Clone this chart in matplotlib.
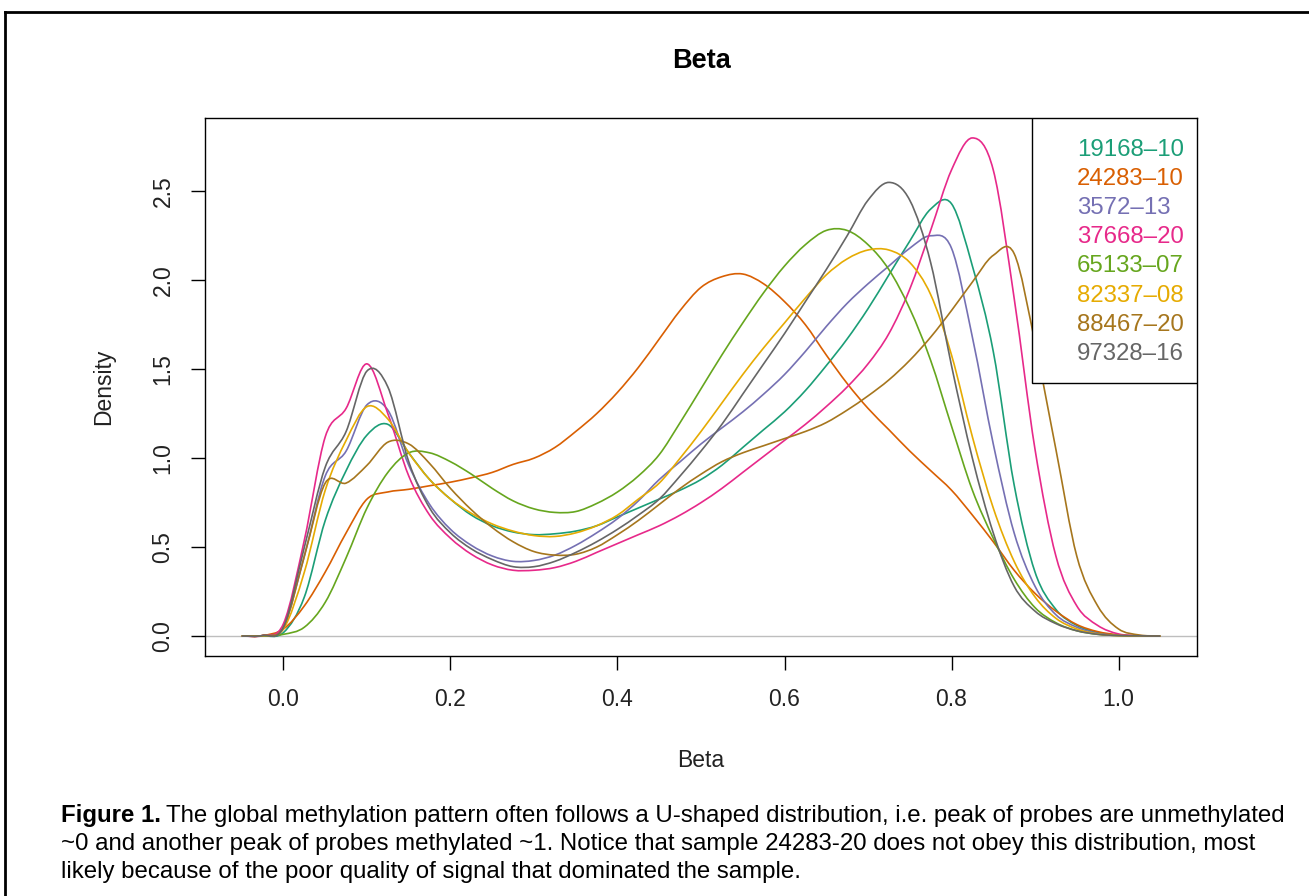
import numpy as np
import matplotlib
matplotlib.use('Agg')
import matplotlib.pyplot as plt
from matplotlib.lines import Line2D
from matplotlib.patches import Rectangle, PathPatch
from matplotlib.path import Path

plt.rcParams['font.family'] = ['Liberation Sans', 'DejaVu Sans']

# 評価点 (Beta)
beta = [-0.05, -0.025, 0.0, 0.025, 0.05, 0.075, 0.1, 0.125, 0.15, 0.175,
        0.2, 0.225, 0.25, 0.275, 0.3, 0.325, 0.35, 0.375, 0.4, 0.425,
        0.45, 0.475, 0.5, 0.525, 0.55, 0.575, 0.6, 0.625, 0.65, 0.675,
        0.7, 0.725, 0.75, 0.775, 0.8, 0.825, 0.85, 0.875, 0.9, 0.925,
        0.95, 0.975, 1.0, 1.025, 1.05]

# サンプル名
samples = ["19168-10", "24283-10", "3572-13", "37668-20",
           "65133-07", "82337-08", "88467-20", "97328-16"]

# 密度
d_19168_10 = [0, 0.001, 0.02, 0.22, 0.65, 0.93, 1.13, 1.19, 1.03, 0.88,
              0.77, 0.68, 0.62, 0.585, 0.57, 0.575, 0.59, 0.62, 0.67, 0.72,
              0.77, 0.82, 0.88, 0.96, 1.06, 1.16, 1.26, 1.38, 1.52, 1.67,
              1.84, 2.03, 2.22, 2.40, 2.43, 2.08, 1.60, 0.85, 0.36, 0.15,
              0.06, 0.02, 0.005, 0.001, 0]
d_24283_10 = [0, 0.003, 0.04, 0.17, 0.36, 0.58, 0.77, 0.81, 0.825, 0.845,
              0.865, 0.89, 0.92, 0.965, 1.0, 1.06, 1.15, 1.25, 1.37, 1.51,
              1.67, 1.83, 1.96, 2.02, 2.035, 1.98, 1.88, 1.75, 1.58, 1.42,
              1.28, 1.16, 1.04, 0.93, 0.82, 0.68, 0.53, 0.37, 0.24, 0.14,
              0.065, 0.025, 0.007, 0.001, 0]
d_3572_13 = [0, 0.003, 0.05, 0.45, 0.90, 1.04, 1.30, 1.27, 0.96, 0.74,
             0.60, 0.51, 0.45, 0.42, 0.425, 0.455, 0.51, 0.58, 0.66, 0.76,
             0.88, 0.98, 1.08, 1.17, 1.26, 1.36, 1.47, 1.60, 1.74, 1.87,
             1.98, 2.08, 2.18, 2.25, 2.18, 1.68, 1.08, 0.58, 0.28, 0.12,
             0.05, 0.015, 0.004, 0.001, 0]
d_37668_20 = [0, 0.003, 0.07, 0.54, 1.12, 1.28, 1.53, 1.25, 0.90, 0.68,
              0.55, 0.46, 0.40, 0.37, 0.37, 0.385, 0.42, 0.47, 0.52, 0.57,
              0.62, 0.68, 0.75, 0.83, 0.92, 1.01, 1.10, 1.19, 1.29, 1.40,
              1.53, 1.70, 1.95, 2.28, 2.62, 2.80, 2.62, 1.90, 1.05, 0.45,
              0.17, 0.06, 0.012, 0.002, 0]
d_65133_07 = [0, 0.001, 0.01, 0.05, 0.19, 0.44, 0.72, 0.92, 1.03, 1.03,
              0.98, 0.91, 0.83, 0.76, 0.715, 0.695, 0.70, 0.745, 0.81, 0.90,
              1.02, 1.20, 1.39, 1.58, 1.76, 1.93, 2.08, 2.20, 2.28, 2.28,
              2.20, 2.06, 1.84, 1.55, 1.18, 0.82, 0.55, 0.32, 0.16, 0.075,
              0.03, 0.01, 0.003, 0.001, 0]
d_82337_08 = [0, 0.002, 0.04, 0.36, 0.82, 1.10, 1.29, 1.22, 1.03, 0.88,
              0.77, 0.69, 0.63, 0.59, 0.565, 0.56, 0.58, 0.62, 0.68, 0.77,
              0.86, 1.0, 1.15, 1.31, 1.47, 1.62, 1.76, 1.90, 2.03, 2.12,
              2.17, 2.17, 2.10, 1.92, 1.58, 1.12, 0.72, 0.42, 0.22, 0.10,
              0.04, 0.012, 0.003, 0.001, 0]
d_88467_20 = [0, 0.003, 0.05, 0.45, 0.86, 0.86, 0.96, 1.09, 1.08, 0.97,
              0.83, 0.71, 0.61, 0.53, 0.475, 0.455, 0.46, 0.50, 0.57, 0.65,
              0.74, 0.83, 0.91, 0.98, 1.03, 1.07, 1.11, 1.15, 1.20, 1.27,
              1.35, 1.44, 1.55, 1.68, 1.83, 1.99, 2.14, 2.15, 1.65, 1.05,
              0.45, 0.17, 0.04, 0.006, 0]
d_97328_16 = [0, 0.003, 0.05, 0.50, 0.95, 1.15, 1.49, 1.40, 0.98, 0.72,
              0.58, 0.49, 0.43, 0.39, 0.39, 0.42, 0.47, 0.53, 0.60, 0.68,
              0.77, 0.90, 1.04, 1.19, 1.36, 1.53, 1.70, 1.88, 2.06, 2.25,
              2.45, 2.55, 2.45, 2.10, 1.52, 1.0, 0.58, 0.28, 0.14, 0.07,
              0.03, 0.01, 0.003, 0.001, 0]

densities = [d_19168_10, d_24283_10, d_3572_13, d_37668_20,
             d_65133_07, d_82337_08, d_88467_20, d_97328_16]

# Dark2
colors = ["#1B9E77", "#D95F02", "#7570B3", "#E7298A",
          "#66A61E", "#E6AB02", "#A6761D", "#666666"]


def smooth_path(x, y):
    # 読み取った点を通るベジェ曲線 (Catmull-Rom)
    x = np.asarray(x, float)
    y = np.asarray(y, float)
    h = np.diff(x)
    m = np.empty_like(y)
    m[1:-1] = (y[2:] - y[:-2]) / (x[2:] - x[:-2])
    m[0] = (y[1] - y[0]) / h[0]
    m[-1] = (y[-1] - y[-2]) / h[-1]
    verts = [(x[0], y[0])]
    codes = [Path.MOVETO]
    for k in range(len(x) - 1):
        verts += [(x[k] + h[k] / 3, y[k] + m[k] * h[k] / 3),
                  (x[k + 1] - h[k] / 3, y[k + 1] - m[k + 1] * h[k] / 3),
                  (x[k + 1], y[k + 1])]
        codes += [Path.CURVE4] * 3
    return Path(verts, codes)


W, H = 1309, 896
fig = plt.figure(figsize=(W / 100, H / 100), dpi=100)
ax = fig.add_axes([205 / W, 1 - 656 / H, (1197 - 205) / W, (656 - 118) / H])

ax.axhline(0, color="#BEBEBE", lw=1.0, zorder=1)
for d, c in zip(densities, colors):
    ax.add_patch(PathPatch(smooth_path(beta, d), facecolor="none", edgecolor=c,
                           lw=1.2, zorder=2))

ax.set_xlim(-0.094, 1.094)
ax.set_ylim(-0.112, 2.912)
ax.set_xticks([0.0, 0.2, 0.4, 0.6, 0.8, 1.0])
ax.set_xticklabels(["0.0", "0.2", "0.4", "0.6", "0.8", "1.0"])
ax.set_yticks([0.0, 0.5, 1.0, 1.5, 2.0, 2.5])
ax.set_yticklabels(["0.0", "0.5", "1.0", "1.5", "2.0", "2.5"], rotation=90, va="center")
ax.tick_params(axis="both", direction="out", length=10, width=1.0, labelsize=16.5,
               colors="black", labelcolor="#222222")
ax.tick_params(axis="x", pad=13)
ax.tick_params(axis="y", pad=12)
for s in ax.spines.values():
    s.set_linewidth(1.0)
    s.set_color("black")

# 凡例
def ax_xy(px, py):
    return (px - 205) / 992, (656 - py) / 538

x0, y0 = ax_xy(1032, 383)
x1, y1 = ax_xy(1197, 118)
ax.add_patch(Rectangle((x0, y0), x1 - x0, y1 - y0, transform=ax.transAxes,
                       facecolor="white", edgecolor="black", lw=1.0, zorder=5))
for i, (name, c) in enumerate(zip(samples, colors)):
    tx, ty = ax_xy(1077, 150 + 29.1 * i)
    ax.text(tx, ty, name.replace("-", "\u2013"), transform=ax.transAxes, color=c,
            fontsize=17.3, ha="left", va="center", zorder=6)

# タイトル・軸ラベル
fig.text(701 / W, 1 - 61 / H, "Beta", ha="center", va="center", fontsize=19.5,
         fontweight="bold")
fig.text(701 / W, 1 - 760 / H, "Beta", ha="center", va="center", fontsize=16.5,
         color="#222222")
fig.text(104 / W, 1 - 387 / H, "Density", ha="center", va="center", fontsize=16.5,
         rotation=90, color="#222222")

# 外枠
fig.add_artist(Line2D([5 / W, 5 / W], [0, 1 - 12 / H], transform=fig.transFigure,
                      color="black", lw=2))
fig.add_artist(Line2D([5 / W, 1], [1 - 12 / H, 1 - 12 / H], transform=fig.transFigure,
                      color="black", lw=2))

# キャプション
cap_fs = 17.3
bold = fig.text(61 / W, 1 - 822 / H, "Figure 1.", fontsize=cap_fs, fontweight="bold",
                ha="left", va="baseline")
renderer = fig.canvas.get_renderer()
bb = bold.get_window_extent(renderer)
fig.text((bb.x1 + 5) / W, 1 - 822 / H,
         "The global methylation pattern often follows a U-shaped distribution, "
         "i.e. peak of probes are unmethylated",
         fontsize=cap_fs, ha="left", va="baseline")
fig.text(61 / W, 1 - 850 / H,
         "~0 and another peak of probes methylated ~1. Notice that sample 24283-20 "
         "does not obey this distribution, most",
         fontsize=cap_fs, ha="left", va="baseline")
fig.text(61 / W, 1 - 878 / H,
         "likely because of the poor quality of signal that dominated the sample.",
         fontsize=cap_fs, ha="left", va="baseline")

fig.savefig("out.png", dpi=100)
